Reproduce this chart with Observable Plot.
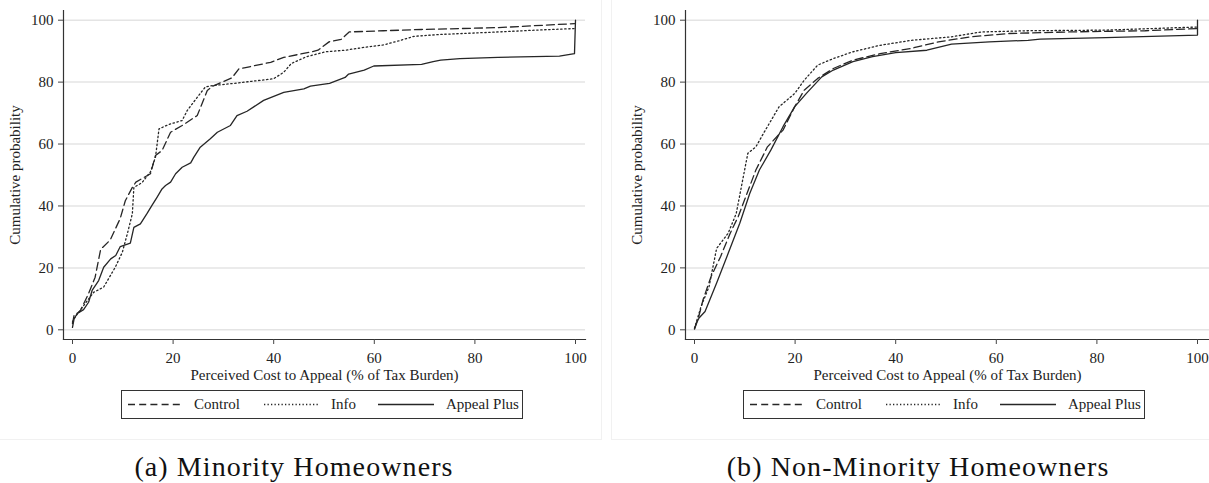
<!DOCTYPE html>
<html>
<head>
<meta charset="utf-8">
<script src="https://cdn.jsdelivr.net/npm/d3@7"></script>
<script src="https://cdn.jsdelivr.net/npm/@observablehq/plot@0.6"></script>
<style>
  html, body { margin: 0; padding: 0; background: #fff; }
  #root { position: relative; width: 1209px; height: 483px; overflow: hidden; font-family: 'Liberation Serif', 'Times New Roman', serif; color: #222; }
  .pbox { position: absolute; top: 0; height: 439px; border-bottom: 1px solid #f1f1f1; }
  .legend { position: absolute; top: 390px; width: 400px; height: 27px; border: 1px solid #333; background: #fff; }
  .legend svg { position: absolute; top: 0; }
  .legend span { position: absolute; top: 4px; font-family: 'Liberation Serif', 'Times New Roman', serif; font-size: 15px; line-height: 18px; white-space: nowrap; }
  .caption { position: absolute; top: 453px; font-family: 'Liberation Serif', 'Times New Roman', serif; font-size: 28px; line-height: 28px; letter-spacing: 1.1px; white-space: nowrap; text-align: center; width: 500px; color: #111; }
  svg.plotchart text { font-family: 'Liberation Serif', 'Times New Roman', serif; }
</style>
</head>
<body>
<div id="root"></div>
<script>
// ---- Data ----
const seriesNames = ["Control", "Info", "Appeal Plus"];
const xTicks = [0, 20, 40, 60, 80, 100];
const yTicks = [0, 20, 40, 60, 80, 100];
const xLabel = "Perceived Cost to Appeal (% of Tax Burden)";
const yLabel = "Cumulative probability";
const captions = ["(a) Minority Homeowners", "(b) Non-Minority Homeowners"];

// Panel (a): Minority homeowners — [cost %, cumulative probability]
const minorityControl = [[0,2],[0.3,4.6],[1.5,6],[3.2,11.7],[4.5,17],[5.6,26],[7.5,29],[9.5,36],[10.5,41.7],[11.9,46],[12.6,47.7],[15.5,50.4],[16.5,56.3],[17.8,57.9],[19.5,63.8],[21.8,66],[24.8,69.2],[26.8,77.3],[27.8,78.6],[31.7,81.4],[33.1,84.3],[34.4,84.7],[39.4,86.4],[42,88],[47.3,89.7],[48.8,90.3],[51,93],[53.4,93.8],[55,96.2],[61.8,96.6],[69.4,97],[84.6,97.6],[99.8,98.9]];
const minorityInfo = [[0,2.5],[0.3,3.6],[2.2,7.8],[4.2,12.1],[6.2,13.8],[8.5,20.2],[9.9,25],[10.9,31],[11.9,37.5],[12.2,46],[13.8,47.5],[15.5,51],[16.5,55.8],[17.2,64.9],[19.1,66.3],[21.8,67.6],[22.8,70.8],[24.8,75.1],[26.4,78.4],[27.4,78.8],[32.7,79.7],[40,81.1],[42,83.2],[43.5,86],[46.5,88.2],[50.3,89.8],[54.2,90.3],[58.7,91.4],[61.8,92],[64.8,93.3],[67.9,94.8],[73.2,95.4],[84.6,96.2],[92.2,96.8],[99.8,97.3]];
const minorityAppealPlus = [[0,0.8],[0.3,3.4],[0.9,5.2],[2.2,6.5],[3.2,8.9],[3.9,12.7],[5.2,15.9],[6.2,20.2],[7.6,22.9],[8.6,24],[9.5,26.9],[11.5,28],[12.2,33.1],[13.5,34.2],[14.8,37.5],[15.8,40.2],[16.8,42.8],[17.8,45.5],[18.5,46.6],[19.5,47.7],[20.5,50.4],[21.8,52.5],[23.5,53.9],[24.1,55.7],[25.4,59],[27.4,61.7],[28.8,63.8],[31.4,66],[32.7,69.2],[34.7,70.6],[38,74.1],[42,76.7],[46,77.8],[47.3,78.7],[51.1,79.6],[54.2,81.5],[54.9,82.6],[58,83.9],[59.9,85.2],[69.4,85.7],[71.7,86.6],[73.2,87.1],[77,87.6],[84.6,88],[96.8,88.4],[99.8,89.2],[100,100]];

// Panel (b): Non-minority homeowners
const nonMinorityControl = [[0,0.5],[0.8,4],[1.7,9.7],[3.3,17.2],[5.2,23.7],[7.1,31.2],[8.7,36.6],[10.2,43],[12.2,51.6],[14.5,59.1],[17.6,64.5],[19.9,72],[21.8,77.4],[24.5,81.2],[27.6,84.4],[31.5,87.1],[36.9,89.2],[43.1,90.9],[48.5,93],[54.7,94.6],[62.5,95.7],[74.1,96.2],[89.6,96.6],[100,97.3]];
const nonMinorityInfo = [[0,0.5],[1.3,7.5],[2.9,14],[4.4,26.3],[6.7,31.2],[8.3,37.6],[10.6,57],[12.2,59.1],[13.7,63.4],[16.8,72],[19.9,76.3],[21.8,80.6],[24.5,85.5],[27.6,87.6],[31.5,89.8],[36.9,91.9],[43.1,93.5],[50.9,94.6],[57,96.2],[66.3,96.6],[81.8,96.8],[100,97.8]];
const nonMinorityAppealPlus = [[0,0.2],[0.5,2.5],[0.9,3.8],[2.1,5.9],[4.4,15.1],[6.7,24.7],[9,34.4],[11,44.1],[12.9,51.6],[15.2,58.1],[17.6,65.6],[19.9,72],[22.2,76.3],[25.3,81.7],[27.6,83.9],[31.5,86.6],[35.4,88.2],[40,89.5],[46.2,90.3],[51.1,92.3],[58.6,93],[66.3,93.5],[68.7,93.9],[81.8,94.4],[100,95.2],[100,100]];

// ---- Styles ----
const dashes = ["8,4", "1.4,2.6", null];
const legendDashes = ["7,4.2", "1.3,2.2", null];
const ink = "#262626";
const serif = "'Liberation Serif', 'Times New Roman', serif";

function panel(seriesData, width, marginRight, insetRight) {
  const marks = [
    Plot.gridY(yTicks, {stroke: "#e4e4e4", strokeOpacity: 1, strokeWidth: 1.5})
  ];
  seriesData.forEach((d, i) => {
    marks.push(Plot.line(d, {
      x: p => p[0], y: p => p[1],
      stroke: ink, strokeWidth: 1.3,
      strokeDasharray: dashes[i] || undefined
    }));
  });
  marks.push(
    Plot.frame({anchor: "left", stroke: "#333", strokeWidth: 1.2}),
    Plot.frame({anchor: "bottom", stroke: "#333", strokeWidth: 1.2}),
    Plot.axisX(xTicks, {tickSize: 5, tickPadding: 8, stroke: "#444", fontFamily: serif, label: xLabel, labelAnchor: "center", labelArrow: "none", labelOffset: 40}),
    Plot.axisY(yTicks, {tickSize: 5, tickPadding: 5, stroke: "#444", fontFamily: serif, label: yLabel, labelAnchor: "center", labelArrow: "none", labelOffset: 54})
  );
  return Plot.plot({
    className: "plotchart",
    width, height: 385,
    marginLeft: 63, marginRight, marginTop: 10, marginBottom: 46,
    insetLeft: 9, insetRight, insetTop: 9.7, insetBottom: 9.7,
    style: {fontFamily: serif, fontSize: "15px", color: "#222", background: "transparent", overflow: "visible"},
    x: {domain: [0, 100]},
    y: {domain: [0, 100]},
    marks
  });
}

function legend(left) {
  const box = document.createElement("div");
  box.className = "legend";
  box.style.left = left + "px";
  const samples = [[6, 61], [142, 197], [256, 312]];
  const textX = [72, 209, 324];
  seriesNames.forEach((name, i) => {
    const svg = d3.create("svg").attr("width", 60).attr("height", 27)
      .style("left", samples[i][0] + "px");
    svg.append("line").attr("x1", 0).attr("x2", samples[i][1] - samples[i][0])
      .attr("y1", 13.5).attr("y2", 13.5)
      .attr("stroke", ink).attr("stroke-width", 1.4)
      .attr("stroke-dasharray", legendDashes[i]);
    box.appendChild(svg.node());
    const t = document.createElement("span");
    t.textContent = name;
    t.style.left = textX[i] + "px";
    box.appendChild(t);
  });
  return box;
}

const root = document.getElementById("root");

const boxA = document.createElement("div");
boxA.className = "pbox"; boxA.style.left = "0px"; boxA.style.width = "601px";
boxA.style.borderRight = "1px solid #f1f1f1";
root.appendChild(boxA);
const boxB = document.createElement("div");
boxB.className = "pbox"; boxB.style.left = "611px"; boxB.style.width = "598px";
boxB.style.borderLeft = "1px solid #f1f1f1";
root.appendChild(boxB);

const chartA = panel([minorityControl, minorityInfo, minorityAppealPlus], 600, 15, 10);
chartA.style.position = "absolute"; chartA.style.left = "0px"; chartA.style.top = "0px";
root.appendChild(chartA);

const chartB = panel([nonMinorityControl, nonMinorityInfo, nonMinorityAppealPlus], 587, 0, 12);
chartB.style.position = "absolute"; chartB.style.left = "622px"; chartB.style.top = "0px";
root.appendChild(chartB);

root.appendChild(legend(121));
root.appendChild(legend(743));

[[44, captions[0]], [668, captions[1]]].forEach(([left, text]) => {
  const c = document.createElement("div");
  c.className = "caption";
  c.style.left = left + "px";
  c.textContent = text;
  root.appendChild(c);
});
</script>
</body>
</html>
